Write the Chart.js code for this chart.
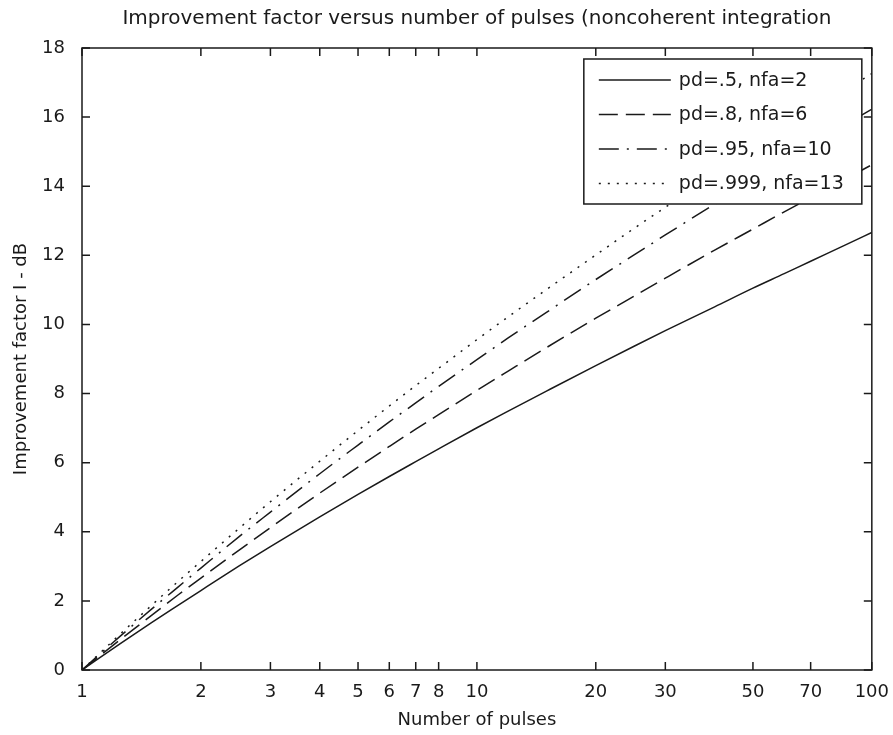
<!DOCTYPE html>
<html>
<head>
<meta charset="utf-8">
<title>Improvement factor</title>
<script src="https://cdn.jsdelivr.net/npm/chart.js@4.4.1/dist/chart.umd.min.js"></script>
<style>
  html, body { margin: 0; padding: 0; background: #fff; }
  #wrap { width: 893px; height: 735px; }
</style>
</head>
<body>
<div id="wrap"><canvas id="improvChart" width="893" height="735"></canvas></div>
<script>
// Number of pulses (log axis) and improvement factor in dB for each case
const pulses   = [1, 1.25, 1.5, 1.75, 2, 2.5, 3, 4, 5, 6, 7, 8, 10, 12, 15, 20, 25, 30, 40, 50, 60, 70, 85, 100];
const impPd50  = [0, 0.76, 1.37, 1.87, 2.30, 3.01, 3.57, 4.43, 5.08, 5.60, 6.03, 6.40, 7.01, 7.49, 8.07, 8.81, 9.37, 9.82, 10.51, 11.05, 11.47, 11.83, 12.28, 12.66];
const impPd80  = [0, 0.88, 1.58, 2.17, 2.66, 3.47, 4.12, 5.12, 5.87, 6.47, 6.97, 7.39, 8.09, 8.65, 9.33, 10.18, 10.82, 11.34, 12.15, 12.76, 13.26, 13.67, 14.19, 14.62];
const impPd95  = [0, 0.98, 1.76, 2.40, 2.95, 3.86, 4.57, 5.68, 6.51, 7.18, 7.73, 8.21, 8.98, 9.61, 10.35, 11.30, 12.01, 12.59, 13.48, 14.16, 14.71, 15.17, 15.75, 16.23];
const impPd999 = [0, 1.04, 1.87, 2.56, 3.14, 4.10, 4.87, 6.04, 6.93, 7.64, 8.23, 8.73, 9.56, 10.22, 11.01, 12.01, 12.78, 13.39, 14.34, 15.06, 15.65, 16.14, 16.75, 17.26];
const seriesLabels = ['pd=.5, nfa=2', 'pd=.8, nfa=6', 'pd=.95, nfa=10', 'pd=.999, nfa=13'];
const xTicks = [1, 2, 3, 4, 5, 6, 7, 8, 10, 20, 30, 50, 70, 100];
const yTicks = [0, 2, 4, 6, 8, 10, 12, 14, 16, 18];
const chartTitle = 'Improvement factor versus number of pulses (noncoherent integration';

const FONT = "'DejaVu Sans', 'Liberation Sans', sans-serif";
const INK = '#1a1a1a';
const TICK = 8;

function toPoints(values) {
    return pulses.map((n, i) => ({ x: n, y: values[i] }));
}

function lineSet(label, values, dash) {
    return {
        label: label,
        data: toPoints(values),
        borderColor: INK,
        borderWidth: 1.5,
        borderDash: dash,
        pointRadius: 0,
        cubicInterpolationMode: 'monotone',
        fill: false
    };
}

// Title centred over the plot area rather than the whole canvas
const plotTitle = {
    id: 'plotTitle',
    afterDraw(chart) {
        const { ctx, chartArea: a } = chart;
        ctx.save();
        ctx.font = '20px ' + FONT;
        ctx.fillStyle = INK;
        ctx.textAlign = 'center';
        ctx.textBaseline = 'middle';
        ctx.fillText(chartTitle, (a.left + a.right) / 2, 19);
        ctx.restore();
    }
};

// Box around the plot with inward tick marks on all four sides
const axisBox = {
    id: 'axisBox',
    afterDatasetsDraw(chart) {
        const { ctx, chartArea: a, scales: { x, y } } = chart;
        ctx.save();
        ctx.strokeStyle = INK;
        ctx.lineWidth = 1.5;
        ctx.setLineDash([]);
        ctx.strokeRect(a.left, a.top, a.right - a.left, a.bottom - a.top);
        ctx.beginPath();
        x.ticks.forEach(t => {
            const px = x.getPixelForValue(t.value);
            ctx.moveTo(px, a.bottom); ctx.lineTo(px, a.bottom - TICK);
            ctx.moveTo(px, a.top); ctx.lineTo(px, a.top + TICK);
        });
        y.ticks.forEach(t => {
            const py = y.getPixelForValue(t.value);
            ctx.moveTo(a.left, py); ctx.lineTo(a.left + TICK, py);
            ctx.moveTo(a.right, py); ctx.lineTo(a.right - TICK, py);
        });
        ctx.stroke();
        ctx.restore();
    }
};

// Boxed legend in the upper right corner of the plot
const boxLegend = {
    id: 'boxLegend',
    afterDraw(chart) {
        const { ctx, chartArea: a } = chart;
        const w = 278, h = 145;
        const left = a.right - w - 10, top = a.top + 11;
        ctx.save();
        ctx.fillStyle = '#fff';
        ctx.fillRect(left, top, w, h);
        ctx.strokeStyle = INK;
        ctx.lineWidth = 1.5;
        ctx.setLineDash([]);
        ctx.strokeRect(left, top, w, h);
        ctx.font = '19px ' + FONT;
        ctx.textBaseline = 'middle';
        ctx.fillStyle = INK;
        chart.data.datasets.forEach((ds, i) => {
            const rowY = top + 21 + i * 34.5;
            ctx.beginPath();
            ctx.setLineDash(ds.borderDash || []);
            ctx.lineWidth = ds.borderWidth;
            ctx.moveTo(left + 15, rowY);
            ctx.lineTo(left + 87, rowY);
            ctx.stroke();
            ctx.fillText(ds.label, left + 95, rowY + 1);
        });
        ctx.restore();
    }
};

function initChart() {
    const ctx = document.getElementById('improvChart').getContext('2d');
    return new Chart(ctx, {
        type: 'line',
        data: {
            datasets: [
                lineSet(seriesLabels[0], impPd50, []),
                lineSet(seriesLabels[1], impPd80, [19, 8]),
                lineSet(seriesLabels[2], impPd95, [20, 8, 2, 8]),
                lineSet(seriesLabels[3], impPd999, [2, 7])
            ]
        },
        options: {
            responsive: false,
            animation: false,
            layout: { padding: { left: 0, right: 20, top: 48, bottom: 0 } },
            plugins: {
                legend: { display: false },
                tooltip: { enabled: false },
                title: { display: false }
            },
            scales: {
                x: {
                    type: 'logarithmic',
                    min: 1,
                    max: 100,
                    grid: { display: false },
                    border: { display: false },
                    afterBuildTicks: scale => { scale.ticks = xTicks.map(v => ({ value: v })); },
                    afterFit: scale => { scale.height = 65; },
                    ticks: {
                        autoSkip: false,
                        maxRotation: 0,
                        padding: 4,
                        color: INK,
                        font: { family: FONT, size: 18, lineHeight: 1.2 },
                        callback: v => String(v)
                    },
                    title: {
                        display: true,
                        text: 'Number of pulses',
                        color: INK,
                        font: { family: FONT, size: 18, lineHeight: 1.2 },
                        padding: { top: 0, bottom: 4 }
                    }
                },
                y: {
                    min: 0,
                    max: 18,
                    grid: { display: false },
                    border: { display: false },
                    afterBuildTicks: scale => { scale.ticks = yTicks.map(v => ({ value: v })); },
                    afterFit: scale => { scale.width = 82; },
                    ticks: {
                        padding: 9,
                        color: INK,
                        font: { family: FONT, size: 18, lineHeight: 1.2 }
                    },
                    title: {
                        display: true,
                        text: 'Improvement factor I - dB',
                        color: INK,
                        font: { family: FONT, size: 18, lineHeight: 1.2 },
                        padding: { top: 11, bottom: 0 }
                    }
                }
            }
        },
        plugins: [axisBox, boxLegend, plotTitle]
    });
}

document.addEventListener('DOMContentLoaded', () => {
    initChart();
});
</script>
</body>
</html>
